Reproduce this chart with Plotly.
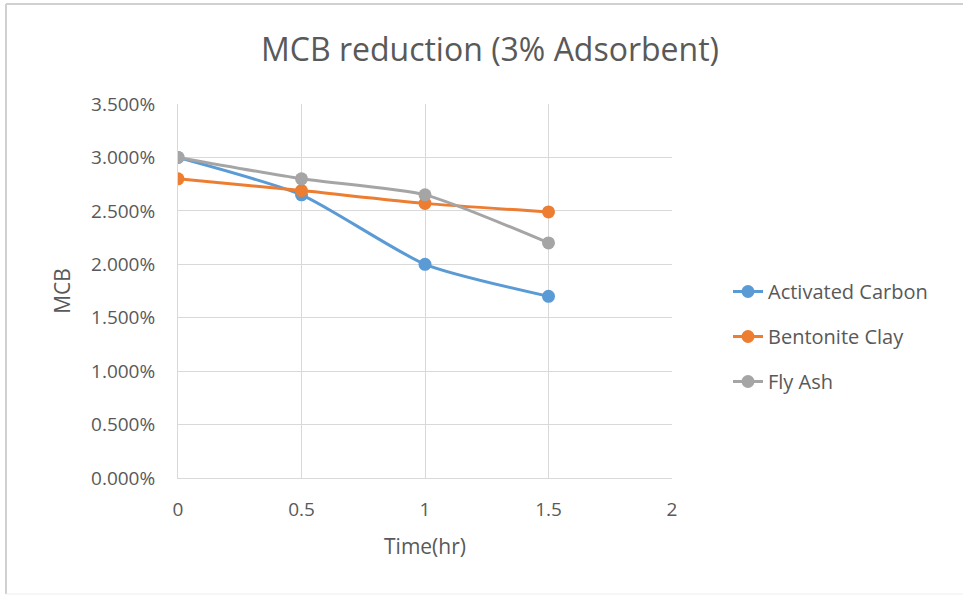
import plotly.graph_objects as go

time_hr = [0, 0.5, 1, 1.5]
activated_carbon = [0.0300, 0.0265, 0.0200, 0.0170]
bentonite_clay = [0.0280, 0.0269, 0.0257, 0.0249]
fly_ash = [0.0300, 0.0280, 0.0265, 0.0220]
series_names = ["Activated Carbon", "Bentonite Clay", "Fly Ash"]
series_colors = ["#5B9BD5", "#ED7D31", "#A5A5A5"]
y_ticks = [0, 0.005, 0.01, 0.015, 0.02, 0.025, 0.03, 0.035]
x_ticks = [0, 0.5, 1, 1.5, 2]

FONT = "'Open Sans', 'Noto Sans', sans-serif"
TXT = "#595959"
fig = go.Figure()
for i, (name, vals, col) in enumerate(zip(series_names, [activated_carbon, bentonite_clay, fly_ash], series_colors)):
    fig.add_trace(go.Scatter(
        x=time_hr, y=vals, name=name, mode="lines+markers", legendgroup=f"g{i}",
        line=dict(color=col, width=3, shape="spline", smoothing=0.6),
        marker=dict(color=col, size=13),
    ))

W, H = 963, 597
L, R, T, B = 178, 291, 104, 119
pw, ph = W - L - R, H - T - B

def px(x):
    return (x - L) / pw

def py(y):
    return (H - B - y) / ph

fig.update_layout(
    width=W, height=H,
    margin=dict(l=L, r=R, t=T, b=B),
    paper_bgcolor="white", plot_bgcolor="white",
    font=dict(family=FONT, color=TXT, size=19),
    title=dict(text="MCB reduction (3% Adsorbent)", x=490 / W, xanchor="center",
               y=1 - 50 / H, yanchor="middle",
               font=dict(size=32, color=TXT, family=FONT)),
    xaxis=dict(range=[0, 2], tickvals=x_ticks, ticktext=["0", "0.5", "1", "1.5", "2"],
               showgrid=True, gridcolor="#D9D9D9", gridwidth=1, zeroline=False,
               showline=True, linecolor="#D9D9D9",
               ticks="outside", ticklen=14, tickcolor="rgba(0,0,0,0)",
               title=dict(text="Time(hr)", font=dict(size=21, color=TXT), standoff=18),
               tickfont=dict(size=19, color=TXT)),
    yaxis=dict(range=[0, 0.035], tickvals=y_ticks, tickformat=".3%",
               showgrid=True, gridcolor="#D9D9D9", gridwidth=1, zeroline=False,
               showline=True, linecolor="#D9D9D9",
               ticks="outside", ticklen=18, tickcolor="rgba(0,0,0,0)",
               title=dict(text="MCB", font=dict(size=21, color=TXT), standoff=14),
               tickfont=dict(size=19, color=TXT)),
    legend=dict(x=px(728), y=py(272), xanchor="left", yanchor="top",
                font=dict(size=20, color=TXT), tracegroupgap=16,
                bgcolor="rgba(0,0,0,0)"),
    showlegend=True,
)

# chart border (top and left edges visible)
fig.add_shape(type="line", xref="paper", yref="paper", x0=px(6), x1=px(963), y0=py(4), y1=py(4),
              line=dict(color="#D0D0D0", width=2))
fig.add_shape(type="line", xref="paper", yref="paper", x0=px(6), x1=px(6), y0=py(4), y1=py(594),
              line=dict(color="#D0D0D0", width=2))
fig.add_shape(type="line", xref="paper", yref="paper", x0=px(6), x1=px(963), y0=py(594), y1=py(594),
              line=dict(color="#EEEEEE", width=1))

fig.write_html("out.html")
